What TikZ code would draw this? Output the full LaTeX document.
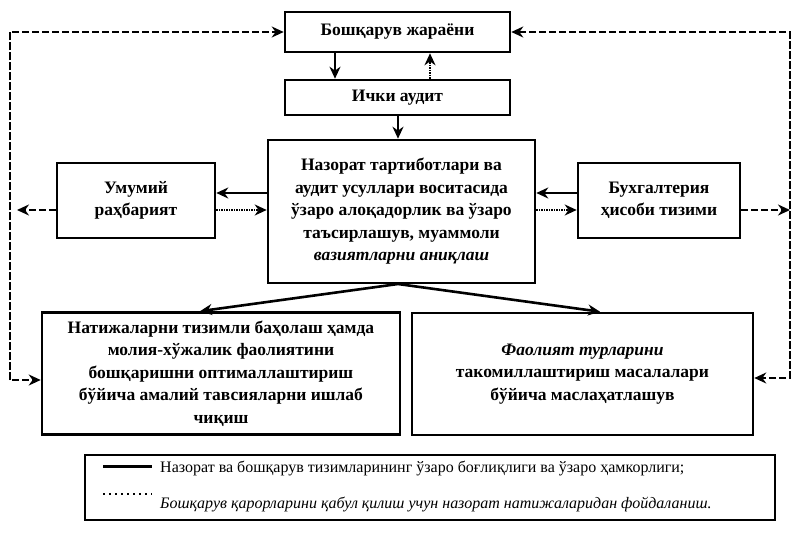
\documentclass[tikz,border=0pt]{standalone}
\usepackage{fontspec}
\setmainfont{Liberation Serif}
\usetikzlibrary{arrows.meta}
\begin{document}
\begin{tikzpicture}[x=1pt,y=-1pt,
  box/.style={draw,line width=2.6pt,rectangle,align=center,inner sep=2pt,
    font=\fontsize{17.5}{22.5}\selectfont\bfseries},
  tip/.style={-{Stealth[length=12pt,width=11pt]}},
  sline/.style={line width=2.6pt,tip},
  dline/.style={line width=2.6pt,dash pattern=on 7pt off 3pt},
  dotline/.style={line width=2.6pt,dash pattern=on 1.5pt off 1pt,tip},
  legtext/.style={anchor=west,inner sep=0pt,font=\fontsize{16}{18}\selectfont}
]
\useasboundingbox (0,0) rectangle (795,533);
% boxes
\node[box,minimum width=225pt,minimum height=40pt] (top) at (397.5,32) {Бошқарув жараёни};
\node[box,minimum width=225pt,minimum height=35pt] (ichki) at (397.5,97.5) {Ички аудит};
\node[box,minimum width=267pt,minimum height=143pt] (cen) at (401.5,211.5)
  {Назорат тартиботлари ва\\аудит усуллари воситасида\\ўзаро алоқадорлик ва ўзаро\\таъсирлашув, муаммоли\\\textit{вазиятларни аниқлаш}};
\node[box,minimum width=158pt,minimum height=75pt] (umu) at (136,200.5) {Умумий\\раҳбарият};
\node[box,minimum width=162pt,minimum height=75pt] (buh) at (659,200.5) {Бухгалтерия\\ҳисоби тизими};
\node[box,minimum width=358pt,minimum height=122pt] (bl) at (221,373.5)
  {Натижаларни тизимли баҳолаш ҳамда\\молия-хўжалик фаолиятини\\бошқаришни оптималлаштириш\\бўйича амалий тавсияларни ишлаб\\чиқиш};
\node[box,minimum width=341pt,minimum height=122pt] (br) at (582.5,374)
  {\textit{Фаолият турларини}\\такомиллаштириш масалалари\\бўйича маслаҳатлашув};
% vertical arrows
\draw[sline] (335,0 |- top.south) -- (335,0 |- ichki.north);
\draw[dotline] (430,0 |- ichki.north) -- (430,0 |- top.south);
\draw[sline] (398,0 |- ichki.south) -- (398,0 |- cen.north);
% side arrows
\draw[sline] (cen.west |- 0,193) -- (umu.east |- 0,193);
\draw[dotline] (umu.east |- 0,210) -- (cen.west |- 0,210);
\draw[sline] (buh.west |- 0,193) -- (cen.east |- 0,193);
\draw[dotline] (cen.east |- 0,210) -- (buh.west |- 0,210);
% down to bottom boxes
\coordinate (cb) at (398,284);
\draw[sline] (cb) -- (200,0 |- bl.north);
\draw[sline] (cb) -- (600,0 |- br.north);
% dashed feedback loops
\coordinate (LT) at (10,32);
\coordinate (LB) at (10,380);
\coordinate (RT) at (790,32);
\coordinate (RB) at (790,378);
\draw[dline,tip] (LB) -- (LT) -- (top.west);
\draw[dline,tip] (LT) -- (LB) -- (LB -| bl.west);
\draw[dline,tip] (RB) -- (RT) -- (top.east);
\draw[dline,tip] (RT) -- (RB) -- (RB -| br.east);
\draw[dline,tip] (umu.west |- 0,210) -- (17,210);
\draw[dline,tip] (buh.east |- 0,210) -- (790,210);
% legend
\node[draw,line width=2pt,minimum width=690pt,minimum height=65pt,inner sep=0pt] (leg) at (430,487.5) {};
\coordinate (s1) at (103,466);
\coordinate (s2) at (152,466);
\coordinate (d1) at (103,494);
\coordinate (d2) at (152,494);
\draw[line width=3pt] (s1) -- (s2);
\draw[line width=2.5pt,dash pattern=on 2pt off 4pt] (d1) -- (d2);
\node[legtext] (l1) at (160,468) {Назорат ва бошқарув тизимларининг ўзаро боғлиқлиги ва ўзаро ҳамкорлиги;};
\node[legtext] (l2) at (160,504) {\textit{Бошқарув қарорларини қабул қилиш учун назорат натижаларидан фойдаланиш.}};
\end{tikzpicture}
\end{document}
